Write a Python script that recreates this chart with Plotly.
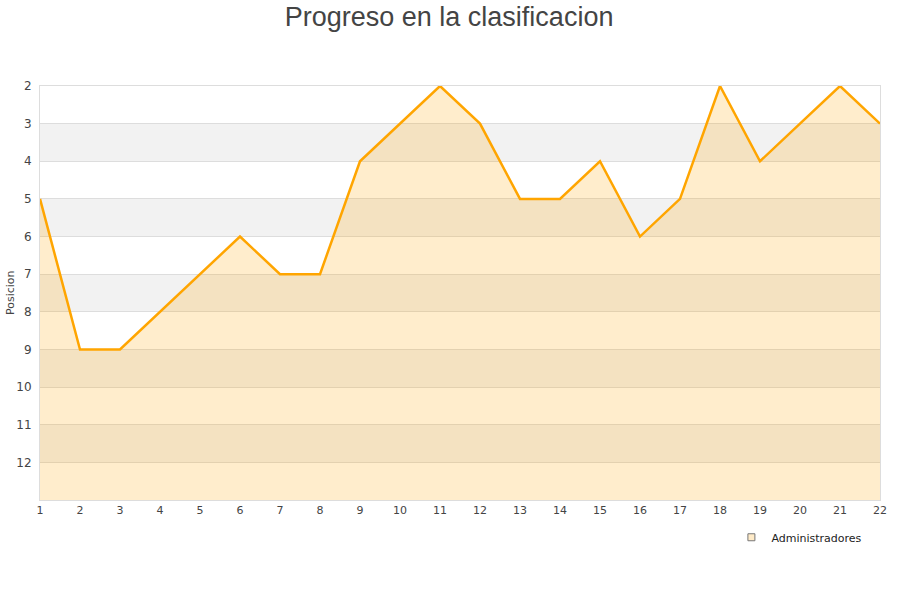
import plotly.graph_objects as go

jornadas = list(range(1, 23))
posicion = [5, 9, 9, 8, 7, 6, 7, 7, 4, 3, 2, 3, 5, 5, 4, 6, 5, 2, 4, 3, 2, 3]
serie = "Administradores"
y_ticks = list(range(2, 13))
bands = [(3, 4), (5, 6), (7, 8), (9, 10), (11, 12)]
y_min, y_max = 2, 13

fig = go.Figure()
fig.add_trace(go.Scatter(x=jornadas, y=[y_max] * len(jornadas), mode="lines",
                         line=dict(width=0, color="rgba(0,0,0,0)"), showlegend=False,
                         hoverinfo="skip"))
fig.add_trace(go.Scatter(x=jornadas, y=posicion, mode="lines", name=serie,
                         line=dict(color="#FFA500", width=2.5),
                         fill="tonexty", fillcolor="rgba(255,165,0,0.2)",
                         showlegend=False))
fig.add_trace(go.Scatter(x=[None], y=[None], mode="markers", name=serie,
                         marker=dict(symbol="square", size=7, color="#FFEBC8",
                                     line=dict(color="#777", width=1))))

for a, b in bands:
    fig.add_shape(type="rect", xref="paper", x0=0, x1=1, yref="y", y0=a, y1=b,
                  fillcolor="#F2F2F2", line_width=0, layer="below")

fig.add_annotation(text="Posicion", textangle=-90, xref="paper", yref="paper",
                   x=-0.0357, y=0.5, xanchor="center", yanchor="middle",
                   showarrow=False, font=dict(size=11, color="#444"))

fig.update_layout(
    width=900, height=600,
    paper_bgcolor="white", plot_bgcolor="white",
    margin=dict(l=40, r=20, t=86, b=100, autoexpand=False),
    font=dict(family="DejaVu Sans", size=11, color="#444"),
    title=dict(text="Progreso en la clasificacion", x=0.499, xanchor="center",
               y=0.973, yanchor="middle",
               font=dict(family="Liberation Sans", size=27, color="#444")),
    xaxis=dict(range=[1, 22], tickmode="array", tickvals=jornadas, showgrid=False,
               zeroline=False, showline=True, linecolor="#ddd", mirror=True,
               ticks="", automargin=False, tickfont=dict(size=11, color="#444")),
    yaxis=dict(range=[y_max, y_min], tickmode="array", tickvals=y_ticks,
               showgrid=True, gridcolor="#dddddd", zeroline=False,
               showline=True, linecolor="#ddd", mirror=True, ticks="",
               automargin=False, ticklabelstandoff=5,
               tickfont=dict(size=12, color="#444")),
    legend=dict(x=0.985, xanchor="right", y=-0.09, yanchor="middle",
                bgcolor="rgba(255,255,255,0)", font=dict(size=11, color="#222"),
                itemwidth=30),
    showlegend=True,
)

fig.write_html("out.html", config={"displayModeBar": False},
               post_script="document.body.style.margin='0';")
